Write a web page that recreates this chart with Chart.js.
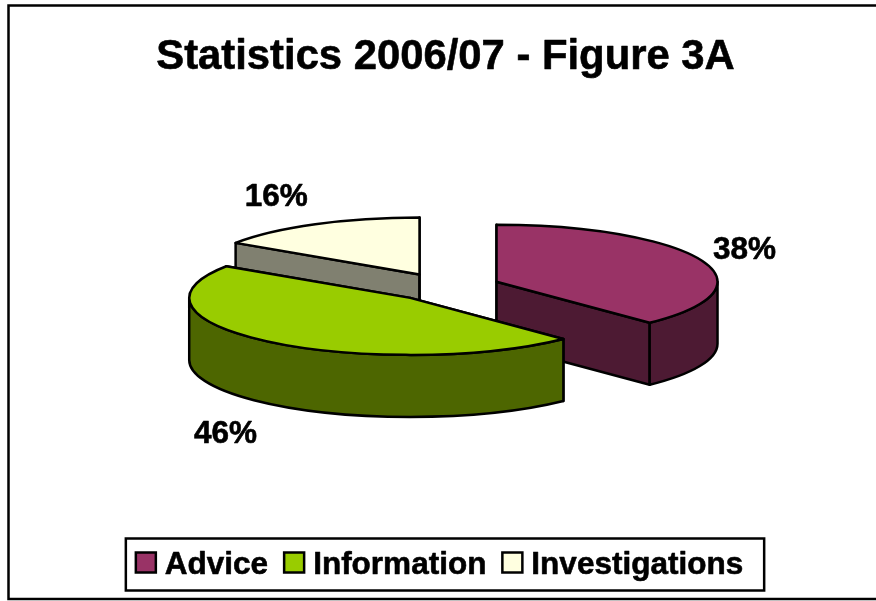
<!DOCTYPE html>
<html>
<head>
<meta charset="utf-8">
<style>
html, body { margin: 0; padding: 0; background: #fff; overflow: hidden; }
#wrap { position: relative; width: 876px; height: 601px; }
</style>
<script src="https://cdn.jsdelivr.net/npm/chart.js@4"></script>
</head>
<body>
<div id="wrap"><canvas id="pie"></canvas></div>
<script>
const titleText = 'Statistics 2006/07 - Figure 3A';
const categories = ['Advice', 'Information', 'Investigations'];
const shares = [37.7, 46.4, 15.6];
const topColors = ['#993366', '#99CC00', '#FFFFE0'];
const sideColors = ['#4D1A33', '#4D6600', '#808070'];

// the slices overlap, so the back one has to go first
const paintOrder = [2, 0, 1];
const labelShift = [[43, -10], [-43, 31], [-39, -27]];

const FONT = 'Arial, "Liberation Sans", sans-serif';
const squash = 57 / 221;
const depth = 62;
const pieY = 287;

function sliceGeometry(arc) {
    var mid = (arc.startAngle + arc.endAngle) / 2;
    var off = arc.options.offset / 4;
    return {
        x: arc.x + Math.cos(mid) * off,
        y: pieY + Math.sin(mid) * off * squash,
        r: arc.outerRadius,
        ry: arc.outerRadius * squash,
        start: arc.startAngle,
        end: arc.endAngle,
        mid: mid
    };
}

function drawWall(ctx, g, angle) {
    var px = g.x + Math.cos(angle) * g.r;
    var py = g.y + Math.sin(angle) * g.ry;
    ctx.beginPath();
    ctx.moveTo(g.x, g.y);
    ctx.lineTo(px, py);
    ctx.lineTo(px, py + depth);
    ctx.lineTo(g.x, g.y + depth);
    ctx.closePath();
    ctx.fill();
    ctx.stroke();
}

const pie3d = {
    id: 'pie3d',
    afterLayout: function (chart) {
        // legend sits a bit left of the centre in the reference
        var legend = chart.legend;
        legend.left -= 6;
        legend.right -= 6;
        legend.legendHitBoxes.forEach(function (b) {
            b.left -= 6;
        });
    },
    beforeDraw: function (chart) {
        var ctx = chart.ctx;
        ctx.save();
        ctx.strokeStyle = '#000';
        ctx.lineWidth = 2.5;
        ctx.strokeRect(8.5, 5.5, 875, 593.5);
        ctx.restore();
    },
    beforeDatasetDraw: function (chart, args) {
        var ctx = chart.ctx;
        var arcs = chart.getDatasetMeta(args.index).data;
        ctx.save();
        ctx.lineWidth = 2.5;
        ctx.lineJoin = 'round';
        ctx.strokeStyle = '#000';
        paintOrder.forEach(function (i) {
            var g = sliceGeometry(arcs[i]);
            ctx.fillStyle = sideColors[i];
            drawWall(ctx, g, g.start);
            drawWall(ctx, g, g.end);

            // outer wall, only the part that faces the viewer
            var a0 = Math.max(g.start, 0);
            var a1 = Math.min(g.end, Math.PI);
            if (a1 > a0) {
                ctx.beginPath();
                ctx.ellipse(g.x, g.y, g.r, g.ry, 0, a0, a1);
                ctx.ellipse(g.x, g.y + depth, g.r, g.ry, 0, a1, a0, true);
                ctx.closePath();
                ctx.fill();
                ctx.stroke();
            }

            ctx.fillStyle = arcs[i].options.backgroundColor;
            ctx.beginPath();
            ctx.moveTo(g.x, g.y);
            ctx.ellipse(g.x, g.y, g.r, g.ry, 0, g.start, g.end);
            ctx.closePath();
            ctx.fill();
            ctx.stroke();
        });
        ctx.restore();
        return false;
    },
    afterDraw: function (chart) {
        var ctx = chart.ctx;
        var arcs = chart.getDatasetMeta(0).data;
        ctx.save();
        ctx.fillStyle = '#000';
        ctx.font = 'bold 31.5px ' + FONT;
        ctx.textAlign = 'center';
        ctx.textBaseline = 'middle';
        arcs.forEach(function (arc, i) {
            var g = sliceGeometry(arc);
            var below = Math.sin(g.mid) > 0 ? depth : 0;
            ctx.fillText(Math.round(shares[i]) + '%',
                g.x + Math.cos(g.mid) * g.r + labelShift[i][0],
                g.y + Math.sin(g.mid) * g.ry + below + labelShift[i][1]);
        });

        // legend frame and swatches, the text comes from the legend itself
        var boxes = chart.legend.legendHitBoxes;
        ctx.lineWidth = 2.5;
        ctx.strokeStyle = '#000';
        ctx.strokeRect(boxes[0].left - 10, boxes[0].top - 11,
            boxes[2].left + boxes[2].width - boxes[0].left + 31, 52);
        boxes.forEach(function (b, i) {
            ctx.fillStyle = arcs[i].options.backgroundColor;
            ctx.fillRect(b.left, b.top + 3, 20, 20);
            ctx.strokeRect(b.left, b.top + 3, 20, 20);
        });
        ctx.restore();
    }
};

// the reference text is a little heavier than the plain bold face
const canvas = document.getElementById('pie');
const context = canvas.getContext('2d');
const plainFillText = context.fillText;
context.fillText = function (text, x, y, maxWidth) {
    this.save();
    this.strokeStyle = '#000';
    this.lineWidth = 0.6;
    this.lineJoin = 'round';
    this.strokeText(text, x, y);
    this.restore();
    plainFillText.call(this, text, x, y, maxWidth);
};

new Chart(canvas, {
    type: 'pie',
    data: {
        labels: categories,
        datasets: [{
            data: shares,
            backgroundColor: topColors,
            borderColor: '#000',
            borderWidth: 0,
            offset: 220
        }]
    },
    options: {
        responsive: true,
        maintainAspectRatio: false,
        animation: false,
        radius: 221,
        layout: { padding: { left: 15, right: 0, top: 0, bottom: 10 } },
        plugins: {
            tooltip: { enabled: false },
            title: {
                display: true,
                text: titleText,
                color: '#000',
                font: { family: FONT, size: 41.8, weight: 'bold' },
                padding: { top: 32, bottom: 10 }
            },
            legend: {
                position: 'bottom',
                labels: {
                    boxWidth: 13.25,
                    boxHeight: 1,
                    padding: 16,
                    color: '#000',
                    font: { family: FONT, size: 31.5, weight: 'bold' },
                    generateLabels: function () {
                        return categories.map(function (name, i) {
                            return { text: name, fillStyle: 'transparent', strokeStyle: 'transparent', lineWidth: 0, index: i };
                        });
                    }
                }
            }
        }
    },
    plugins: [pie3d]
});
</script>
</body>
</html>
